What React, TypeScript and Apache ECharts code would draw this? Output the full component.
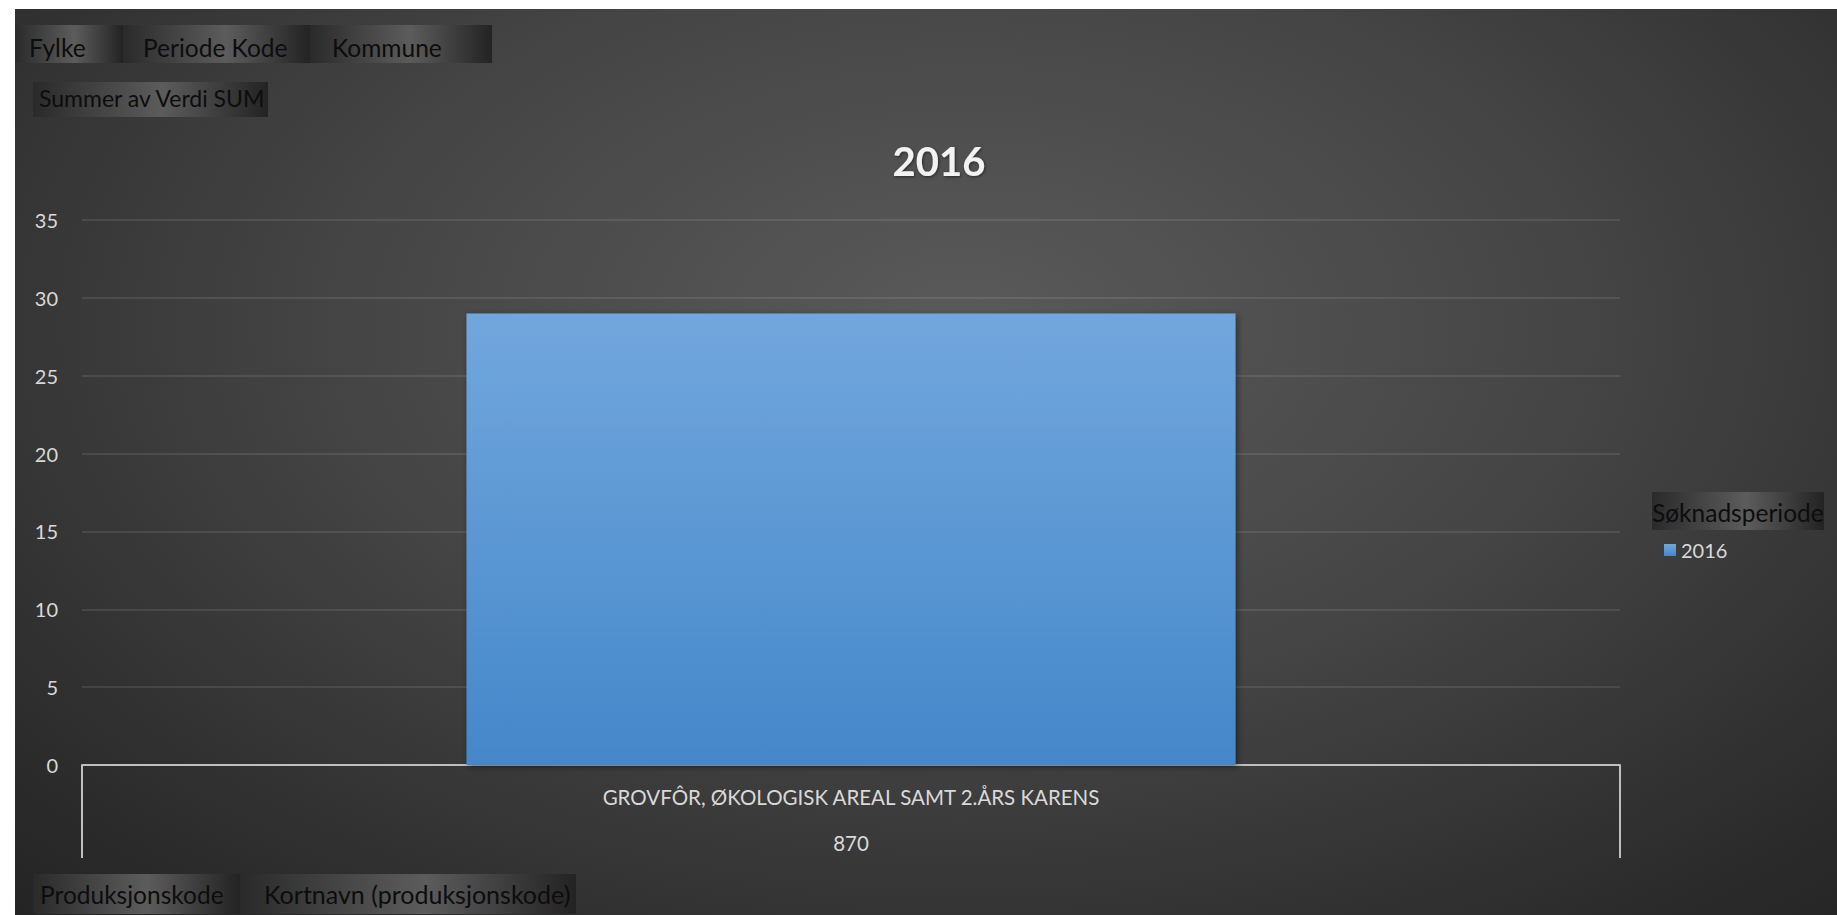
import React, { useEffect, useRef } from "react";
import * as echarts from "echarts";

const categoryCodes = ["870"];
const categoryNames = ["GROVFÔR, ØKOLOGISK AREAL SAMT 2.ÅRS KARENS"];
const seriesName = "2016";
const seriesValues = [29];
const chartTitle = "2016";
const filterFields = ["Fylke", "Periode Kode", "Kommune"];
const valueFields = ["Summer av Verdi SUM"];
const axisFields = ["Produksjonskode", "Kortnavn (produksjonskode)"];
const legendTitle = "Søknadsperiode";

const FONT = "Lato, 'Open Sans', sans-serif";

function buttonGradient() {
  return new echarts.graphic.LinearGradient(0, 0, 1, 0, [
    { offset: 0, color: "#2a2a2a" },
    { offset: 0.55, color: "#5c5c5c" },
    { offset: 1, color: "#232323" },
  ]);
}

function fieldButton(
  label: string,
  x: number,
  y: number,
  w: number,
  h: number,
  textDx: number,
  size = 24.5,
  textDy = 0
) {
  return {
    type: "group",
    x,
    y,
    children: [
      { type: "rect", shape: { x: 0, y: 0, width: w, height: h }, style: { fill: buttonGradient() } },
      {
        type: "text",
        x: textDx,
        y: h / 2 + textDy,
        style: { text: label, fill: "#0d0d0d", font: `${size}px ${FONT}`, textVerticalAlign: "middle" },
      },
    ],
  };
}

export default function App() {
  const ref = useRef<HTMLDivElement>(null);
  useEffect(() => {
    if (!ref.current) return;
    const chart = echarts.init(ref.current, undefined, { renderer: "svg" });
    const graphics: any[] = [
      fieldButton(filterFields[0], 0, 16, 108, 38, 14, 24.5, 3),
      fieldButton(filterFields[1], 108, 16, 187, 38, 20, 24.5, 3),
      fieldButton(filterFields[2], 295, 16, 182, 38, 22, 24.5, 3),
      fieldButton(valueFields[0], 18, 73, 235, 35, 6, 23, -2),
      fieldButton(axisFields[0], 18, 865, 207, 40, 7),
      fieldButton(axisFields[1], 225, 865, 336, 40, 24, 25),
      fieldButton(legendTitle, 1637, 483, 172, 38, 0, 24.5, 1),
    ];
    chart.setOption({
      animation: false,
      backgroundColor: "transparent",
      textStyle: { fontFamily: FONT },
      title: {
        text: chartTitle,
        left: 919,
        top: 127,
        textAlign: "center",
        textStyle: {
          color: "#f2f2f2",
          fontSize: 40,
          fontWeight: "bold",
          fontFamily: FONT,
          textShadowColor: "rgba(0,0,0,0.5)",
          textShadowBlur: 3,
          textShadowOffsetX: 1,
          textShadowOffsetY: 1,
        },
      },
      legend: {
        data: [seriesName],
        left: 1644,
        top: 526,
        icon: "rect",
        itemWidth: 12,
        itemHeight: 12,
        itemGap: 6,
        textStyle: { color: "#d9d9d9", fontSize: 20, fontFamily: FONT },
      },
      grid: { left: 67, right: 217, top: 211, bottom: 150, containLabel: false },
      xAxis: {
        type: "category",
        data: categoryCodes,
        axisLine: { lineStyle: { color: "#bfbfbf", width: 2 } },
        axisTick: { show: true, length: 93, lineStyle: { color: "#bfbfbf", width: 2 } },
        axisLabel: {
          color: "#d9d9d9",
          fontSize: 20.5,
          fontFamily: FONT,
          margin: 9,
          lineHeight: 46,
          formatter: (v: string, i: number) => `${categoryNames[i]}\n${v}`,
        },
      },
      yAxis: {
        type: "value",
        min: 0,
        max: 35,
        interval: 5,
        axisLine: { show: false },
        axisTick: { show: false },
        axisLabel: { color: "#d9d9d9", fontSize: 20, fontFamily: FONT, margin: 24 },
        splitLine: { lineStyle: { color: "rgba(255,255,255,0.13)", width: 1.5 } },
      },
      series: [
        {
          type: "bar",
          name: seriesName,
          data: seriesValues,
          barWidth: "50%",
          itemStyle: {
            color: new echarts.graphic.LinearGradient(0, 0, 0, 1, [
              { offset: 0, color: "#72a7dd" },
              { offset: 1, color: "#4487ca" },
            ]),
            shadowBlur: 6,
            shadowColor: "rgba(0,0,0,0.45)",
            shadowOffsetX: 2,
            shadowOffsetY: 2,
          },
        },
      ],
      graphic: graphics,
    });
    return () => chart.dispose();
  }, []);
  return (
    <div
      style={{
        position: "absolute",
        left: 15,
        top: 9,
        width: 1822,
        height: 906,
        background: "radial-gradient(ellipse 75% 90% at 52% 35%, #5a5a5a 0%, #454545 45%, #2c2c2c 85%, #242424 100%)",
      }}
    >
      <div ref={ref} style={{ width: "100%", height: "100%" }} />
    </div>
  );
}
